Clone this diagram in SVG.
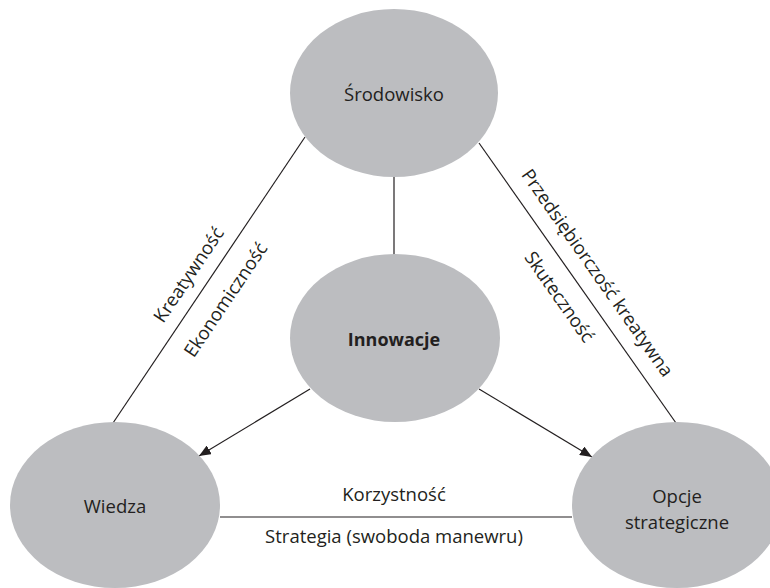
<svg xmlns="http://www.w3.org/2000/svg" width="770" height="588" viewBox="0 0 770 588">
<style>
.node{fill:#bcbdc0;stroke:none}
.lbl{font-family:"Open Sans","Noto Sans","Liberation Sans",sans-serif;font-size:18.5px;fill:#231f20;text-anchor:middle}
.b{font-weight:bold;font-size:18px}
.ln{stroke:#231f20;stroke-width:1.2;fill:none}
</style>
<defs>
<marker id="ah" viewBox="0 0 12 10" refX="12" refY="5" markerWidth="12" markerHeight="10" markerUnits="userSpaceOnUse" orient="auto">
<path d="M0,0 L12,5 L0,10 Z" fill="#231f20"/>
</marker>
</defs>
<rect width="770" height="588" fill="#ffffff"/>
<g id="connectors">
<line class="ln" x1="394" y1="176" x2="394" y2="256"/>
<line class="ln" x1="305" y1="137" x2="113" y2="423"/>
<line class="ln" x1="479" y1="143" x2="676" y2="423"/>
<line class="ln" x1="220" y1="517" x2="572" y2="517"/>
<line class="ln" x1="310" y1="389" x2="199" y2="456" marker-end="url(#ah)"/>
<line class="ln" x1="479" y1="389" x2="592" y2="457" marker-end="url(#ah)"/>
<text class="lbl" transform="translate(189,275) rotate(-56.1)" y="6">Kreatywność</text>
<text class="lbl" transform="translate(226,300) rotate(-56.1)" y="6">Ekonomiczność</text>
<text class="lbl" transform="translate(597,273) rotate(54.9)" y="6">Przedsiębiorczość kreatywna</text>
<text class="lbl" transform="translate(559,297) rotate(54.9)" y="6">Skuteczność</text>
<text class="lbl" x="394" y="501">Korzystność</text>
<text class="lbl" x="394" y="543">Strategia (swoboda manewru)</text>
</g>
<g id="srodowisko">
<ellipse class="node" cx="394" cy="93" rx="104" ry="84"/>
<text class="lbl" x="394" y="101">Środowisko</text>
</g>
<g id="innowacje">
<ellipse class="node" cx="395" cy="338" rx="105" ry="84"/>
<text class="lbl b" x="394" y="346">Innowacje</text>
</g>
<g id="wiedza">
<ellipse class="node" cx="115" cy="505" rx="105" ry="83"/>
<text class="lbl" x="115" y="513">Wiedza</text>
</g>
<g id="opcje">
<ellipse class="node" cx="677" cy="505" rx="105" ry="83"/>
<text class="lbl" x="677" y="503">Opcje</text>
<text class="lbl" x="677" y="529">strategiczne</text>
</g>
</svg>
